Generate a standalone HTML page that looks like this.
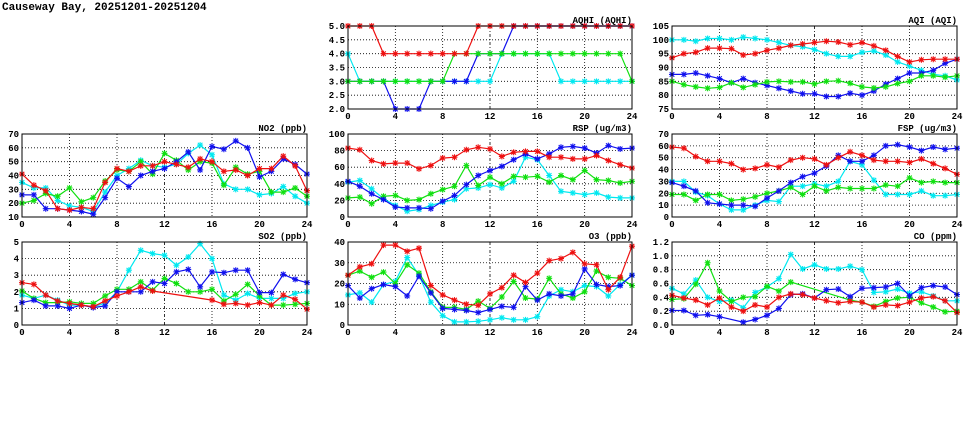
<!DOCTYPE html>
<html><head><meta charset="utf-8"><style>
body{margin:0;background:#fff;width:975px;height:447px;overflow:hidden}
svg{display:block;font-family:"Liberation Mono","DejaVu Sans Mono",monospace}
</style></head><body>
<svg id="c" width="975" height="447" viewBox="0 0 975 447">
<text x="2" y="10" font-size="11" font-weight="bold">Causeway Bay, 20251201-20251204</text>
</svg>
<script>
const hours=[0,1,2,3,4,5,6,7,8,9,10,11,12,13,14,15,16,17,18,19,20,21,22,23,24];
const xTicks=[0,4,8,12,16,20,24];
const N=null;
// AQHI
const aqhiRed=[5,5,5,4,4,4,4,4,4,4,4,5,5,5,5,5,5,5,5,5,5,5,5,5,5];
const aqhiGreen=[3,3,3,3,3,3,3,3,3,4,4,4,4,4,4,4,4,4,4,4,4,4,4,4,3];
const aqhiBlue=[3,3,3,3,2,2,2,3,3,3,3,4,4,4,5,5,5,5,5,5,5,5,5,5,5];
const aqhiCyan=[4,3,3,3,3,3,3,3,3,3,3,3,3,4,4,4,4,4,3,3,3,3,3,3,3];
const aqhiTicks=[2,2.5,3,3.5,4,4.5,5];
// AQI
const aqiCyan=[100,100,99.5,100.5,100.5,100,101,100.5,100,99,98,97.5,96.5,95,94,94,95.5,96,94.5,92,90.5,89,87.5,87,85.5];
const aqiRed=[93.5,95,95.5,97,97,96.8,94.5,95,96.2,97,98,98.5,99,99.5,99.2,98.2,99,97.8,96.2,94,92,92.8,93,93,93];
const aqiBlue=[87.5,87.5,88,87,86,84.5,86,84.5,83.5,82.5,81.5,80.5,80.5,79.5,79.5,80.7,80,81.5,84,86,88,88,89,91.5,93];
const aqiGreen=[85,83.8,83,82.5,82.8,84.5,82.8,83.8,84.8,85,84.8,84.8,84,85,85.2,84.3,83,82.6,83,84.2,85,87,87,86.5,87];
const aqiTicks=[75,80,85,90,95,100,105];
// NO2
const no2Blue=[26,26,16,16,15,14,12,24,38,32,40,43,45,50,57,44,61,59,65,60,39,43,52,48,41];
const no2Cyan=[35,31,31,22,18,17,14,28,40,45,51,47,46,48,56,62,55,34,30,30,26,27,32,25,20];
const no2Red=[41,33,29,16,15,17,16,35,45,43,47,47,50,48,46,52,50,43,44,40,45,45,54,47,29];
const no2Green=[20,22,27,25,31,21,24,36,44,43,50,41,56,51,44,50,49,33,46,41,43,28,28,31,25];
const no2Ticks=[10,20,30,40,50,60,70];
// RSP
const rspRed=[83,81,68,64,65,65,58,62,71,72,81,84,82,73,78,79,79,72,72,70,70,74,68,63,59];
const rspBlue=[43,37,28,21,12,11,11,10,19,26,39,50,56,61,69,76,70,76,84,85,83,77,86,82,83];
const rspCyan=[42,44,34,22,14,7,9,14,18,21,34,35,39,35,43,72,69,50,31,29,27,29,24,23,23];
const rspGreen=[23,24,16,25,26,20,21,28,33,37,62,38,48,40,49,48,49,42,50,45,56,45,44,41,43];
const rspTicks=[0,20,40,60,80,100];
// FSP
const fspRed=[59,58,51,47,47,45,40,41,44,42,48,50,49,44,50,55,52,48,47,47,46,49,45,41,36];
const fspBlue=[29,26,22,12,11,10,10,9,16,22,29,34,37,43,52,47,47,52,60,61,59,56,59,57,58];
const fspCyan=[30,30,21,18,11,6,6,10,14,13,26,26,28,26,30,47,44,31,19,19,19,22,18,18,19];
const fspGreen=[19,19,14,19,19,14,15,17,20,22,25,19,26,22,25,24,24,24,27,26,33,29,30,29,29];
const fspTicks=[0,10,20,30,40,50,60,70];
// SO2
const so2Cyan=[1.8,1.6,1.8,1.5,1.2,1.2,1.1,1.3,2.0,3.3,4.5,4.3,4.2,3.6,4.1,4.9,4.0,1.8,1.5,1.9,1.6,1.6,1.6,1.9,2.0];
const so2Blue=[1.35,1.5,1.15,1.15,1.0,1.2,1.05,1.15,2.0,2.0,2.0,2.6,2.5,3.2,3.35,2.3,3.2,3.15,3.3,3.3,1.95,1.95,3.05,2.75,2.55];
const so2Green=[2.05,1.6,1.35,1.35,1.4,1.3,1.3,1.75,2.15,2.15,2.6,2.1,2.8,2.5,2.0,2.0,2.15,1.45,1.85,2.45,1.75,1.2,1.2,1.25,1.3];
const so2Red=[2.55,2.45,1.8,1.45,1.3,1.2,1.1,1.45,1.75,2.0,2.3,2.05,N,N,N,N,1.5,1.25,1.3,1.2,1.35,1.2,1.8,1.55,0.95];
const so2Ticks=[0,1,2,3,4,5];
// O3
const o3Cyan=[14.5,15.5,11,19.5,21,32.5,24,11,4.5,1.5,1.5,1.8,2.5,3.5,2.5,2.5,4,14,17,16,19,18.5,14,19.5,24];
const o3Blue=[19,13,17.5,19.5,18.5,14,23.5,15.5,8,7.5,7,6,7.5,9,8.5,18.5,12,15,14,15,27,19.5,18.5,19,24];
const o3Green=[24,26,23,25.5,20,29,25,16,8.5,8.5,7.5,11.5,8,13.5,21,13,12.5,22.5,15,13,16,26,23,22.5,19];
const o3Red=[24,28,29.5,38.5,38.5,35.5,37,19,14.5,12,10,9.5,15,18,24,20.5,25,31,32,35,29.5,29,17,23,38];
const o3Ticks=[0,10,20,30,40];
// CO
const coCyan=[0.53,0.45,0.65,0.4,0.34,0.36,0.25,0.47,0.55,0.67,1.02,0.81,0.87,0.81,0.81,0.85,0.80,0.47,0.48,0.52,0.46,0.48,0.42,0.35,0.35];
const coBlue=[0.21,0.21,0.14,0.15,0.12,N,0.04,0.08,0.14,0.24,0.44,0.45,0.39,0.51,0.52,0.41,0.53,0.54,0.55,0.60,0.42,0.54,0.57,0.55,0.44];
const coGreen=[0.37,0.38,0.59,0.90,0.49,0.34,0.40,0.41,0.56,0.49,0.62,N,N,N,N,0.36,0.33,0.27,0.34,0.39,0.40,0.32,0.26,0.19,0.20];
const coRed=[0.43,0.39,0.36,0.29,0.39,0.26,0.20,0.29,0.26,0.40,0.45,0.44,0.39,0.35,0.32,0.34,0.33,0.26,0.29,0.28,0.33,0.39,0.41,0.35,0.18];
const coTicks=[0,0.2,0.4,0.6,0.8,1.0,1.2];

const COL={cyan:'#00e8f0',blue:'#1010ee',green:'#10e010',red:'#ee1010'};
const svg=document.getElementById('c');
const NS='http://www.w3.org/2000/svg';
function mk(tag,attrs,parent){const e=document.createElementNS(NS,tag);for(const k in attrs)e.setAttribute(k,attrs[k]);(parent||svg).appendChild(e);return e;}

function panel(key,title,L,T,R,B,ticks,dec,series){
  const g=mk('g',{});
  
  
  const ymin=ticks[0],ymax=ticks[ticks.length-1];
  const xs=h=>L+(R-L)*h/24;
  const ys=v=>B-(B-T)*(v-ymin)/(ymax-ymin);
  ticks.forEach(t=>{
    const y=ys(t);
    if(t!==ymin&&t!==ymax){const gl=mk('line',{x1:L,x2:R,y1:y,y2:y,stroke:'#000','stroke-width':0.8,'stroke-dasharray':'1,2'},g);
    }
    const tx=mk('text',{x:L-3,y:y+3,'font-size':9,'text-anchor':'end','font-weight':'bold'},g);
    
    tx.textContent=t.toFixed(dec);
  });
  xTicks.forEach(h=>{
    const x=xs(h);
    if(h!==0&&h!==24){const gl=mk('line',{x1:x,x2:x,y1:T,y2:B,stroke:'#000','stroke-width':0.8,'stroke-dasharray':h===12?'3,2,1,2':'1,2'},g);
    }
    const tx=mk('text',{x:x,y:B+10,'font-size':9,'text-anchor':'middle','font-weight':'bold'},g);
    
    tx.textContent=h;
  });
  series.forEach(([name,col,vals])=>{
    const pts=[];vals.forEach((v,i)=>{if(v!==null&&v!==undefined)pts.push([xs(hours[i]),ys(v)]);});
    const pl=mk('polyline',{points:pts.map(p=>p[0].toFixed(1)+','+p[1].toFixed(1)).join(' '),fill:'none',stroke:col,'stroke-width':1.2},g);
    
    pts.forEach(p=>{
      const s=2.3;
      const m=mk('path',{d:`M${p[0]-s},${p[1]-s}L${p[0]+s},${p[1]+s}M${p[0]-s},${p[1]+s}L${p[0]+s},${p[1]-s}M${p[0]-s-0.7},${p[1]}L${p[0]+s+0.7},${p[1]}M${p[0]},${p[1]-s-0.7}L${p[0]},${p[1]+s+0.7}`,stroke:col,'stroke-width':1.1,fill:'none'},g);
      
    });
  });
  const fr=mk('rect',{x:L,y:T,width:R-L,height:B-T,fill:'none',stroke:'#000','stroke-width':1},g);
  
  const tt=mk('text',{x:R,y:T-3,'font-size':9,'text-anchor':'end','font-weight':'bold'},g);
  
  tt.textContent=title;
}
const C=COL;
panel('aqhi','AQHI (AQHI)',348,26,632,109,aqhiTicks,1,[['cyan',C.cyan,aqhiCyan],['blue',C.blue,aqhiBlue],['green',C.green,aqhiGreen],['red',C.red,aqhiRed]]);
panel('aqi','AQI (AQI)',672,26,957,109,aqiTicks,0,[['cyan',C.cyan,aqiCyan],['blue',C.blue,aqiBlue],['green',C.green,aqiGreen],['red',C.red,aqiRed]]);
panel('no2','NO2 (ppb)',22,134,307,217,no2Ticks,0,[['cyan',C.cyan,no2Cyan],['green',C.green,no2Green],['blue',C.blue,no2Blue],['red',C.red,no2Red]]);
panel('rsp','RSP (ug/m3)',348,134,632,217,rspTicks,0,[['cyan',C.cyan,rspCyan],['green',C.green,rspGreen],['blue',C.blue,rspBlue],['red',C.red,rspRed]]);
panel('fsp','FSP (ug/m3)',672,134,957,217,fspTicks,0,[['cyan',C.cyan,fspCyan],['green',C.green,fspGreen],['blue',C.blue,fspBlue],['red',C.red,fspRed]]);
panel('so2','SO2 (ppb)',22,242,307,325,so2Ticks,0,[['cyan',C.cyan,so2Cyan],['green',C.green,so2Green],['blue',C.blue,so2Blue],['red',C.red,so2Red]]);
panel('o3','O3 (ppb)',348,242,632,325,o3Ticks,0,[['cyan',C.cyan,o3Cyan],['green',C.green,o3Green],['blue',C.blue,o3Blue],['red',C.red,o3Red]]);
panel('co','CO (ppm)',672,242,957,325,coTicks,1,[['cyan',C.cyan,coCyan],['green',C.green,coGreen],['blue',C.blue,coBlue],['red',C.red,coRed]]);
</script>
</body></html>
